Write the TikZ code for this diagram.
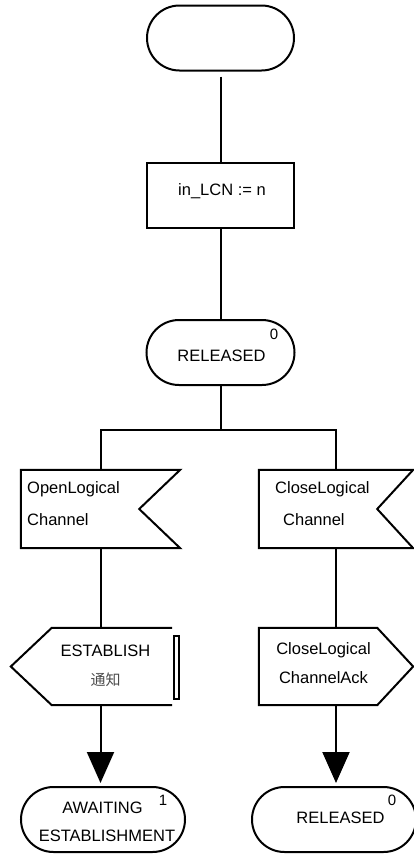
\documentclass[tikz,border=0pt]{standalone}
\usepackage{fontspec}
\setmainfont{Liberation Sans}
\newfontfamily\cjkfont{Noto Sans CJK SC}
\usetikzlibrary{arrows.meta,shapes.misc,calc}
\tikzset{
  sdlline/.style={line width=2pt, line join=miter},
  statebox/.style={rounded rectangle, draw, sdlline, minimum width=#1, minimum height=65pt, inner sep=0pt},
  taskbox/.style={rectangle, draw, sdlline, minimum width=147pt, minimum height=65pt, inner sep=0pt},
  sigbox/.style={rectangle, minimum height=78pt, inner sep=0pt},
  txt/.style={font=\fontsize{16.5}{19}\selectfont, inner sep=0pt},
  num/.style={font=\fontsize{15}{18}\selectfont, inner sep=0pt},
  cjk/.style={font=\cjkfont\fontsize{15}{18}\selectfont, text=black!70, inner sep=0pt},
  flowtip/.style={-{Triangle[length=31pt, width=27pt]}, shorten >=3pt}
}
\begin{document}
\begin{tikzpicture}[x=1pt, y=-1pt]
\useasboundingbox (0,0) rectangle (413,855);
\node [statebox=147pt] (start) at (220.5,38) {};
\node [taskbox] (task) at (220.5,195.5) {};
\node [statebox=148pt] (rel) at (220.5,352.5) {};
\coordinate (split) at (220.5,430);
\node [sigbox, minimum width=159pt] (inopen) at (100.5,509) {};
\node [sigbox, minimum width=154pt] (inclose) at (336,509) {};
\node [sigbox, minimum width=161pt, minimum height=77pt] (outest) at (91.5,666.5) {};
\node [sigbox, minimum width=154pt, minimum height=77pt] (outack) at (336,666.5) {};
\node [statebox=164pt] (await) at (103,819.5) {};
\node [statebox=164pt] (relend) at (334,819.5) {};
\draw [sdlline] (inopen.north west) -- (inopen.north east) -- ($(inopen.east)+(-41,0)$) -- (inopen.south east) -- (inopen.south west) -- cycle;
\draw [sdlline] (inclose.north west) -- (inclose.north east) -- ($(inclose.east)+(-36,0)$) -- (inclose.south east) -- (inclose.south west) -- cycle;
\draw [sdlline] (outest.north east) -- ($(outest.north west)+(41,0)$) -- (outest.west) -- ($(outest.south west)+(41,0)$) -- (outest.south east);
\draw [sdlline] ($(outest.north east)+(2,8)$) rectangle ($(outest.south east)+(7,-6)$);
\draw [sdlline] (outack.north west) -- ($(outack.north east)+(-36,0)$) -- (outack.east) -- ($(outack.south east)+(-36,0)$) -- (outack.south west) -- cycle;
\draw [sdlline, shorten <=5pt] (start) -- (task);
\draw [sdlline] (task) -- (rel);
\draw [sdlline] (rel) -- (split);
\draw [sdlline] (split) -| (inopen.north);
\draw [sdlline] (split) -| (inclose.north);
\draw [sdlline] (inopen.south) -- (inopen.south |- outest.north);
\draw [sdlline] (inclose.south) -- (outack.north);
\draw [sdlline, flowtip] (inopen.south |- outest.south) -- (inopen.south |- await.north);
\draw [sdlline, flowtip] (outack.south) -- (outack.south |- relend.north);
\node [txt, anchor=base] (tasktext) at (222,195) {in\_LCN := n};
\node [txt, anchor=base] (reltext) at (221.5,361) {RELEASED};
\node [num, anchor=base] (relnum) at (274,339) {0};
\node [txt, anchor=base west] (opentext) at (27,493) {OpenLogical};
\node [txt, anchor=base west] (openchan) at (27,525) {Channel};
\node [txt, anchor=base west] (closetext) at (275,493) {CloseLogical};
\node [txt, anchor=base west] (closechan) at (283,525) {Channel};
\node [txt, anchor=base] (esttext) at (105.5,656) {ESTABLISH};
\node [cjk, anchor=base] (estnote) at (105.5,685) {通知};
\node [txt, anchor=base] (acktext) at (323.5,654) {CloseLogical};
\node [txt, anchor=base] (ackchan) at (323.5,683) {ChannelAck};
\node [txt, anchor=base] (awaittext) at (102.5,813) {AWAITING};
\node [txt, anchor=base] (awaitest) at (107,841) {ESTABLISHMENT};
\node [num, anchor=base] (awaitnum) at (163,805) {1};
\node [txt, anchor=base] (relendtext) at (340.5,823) {RELEASED};
\node [num, anchor=base] (relendnum) at (392,805) {0};
\end{tikzpicture}
\end{document}
